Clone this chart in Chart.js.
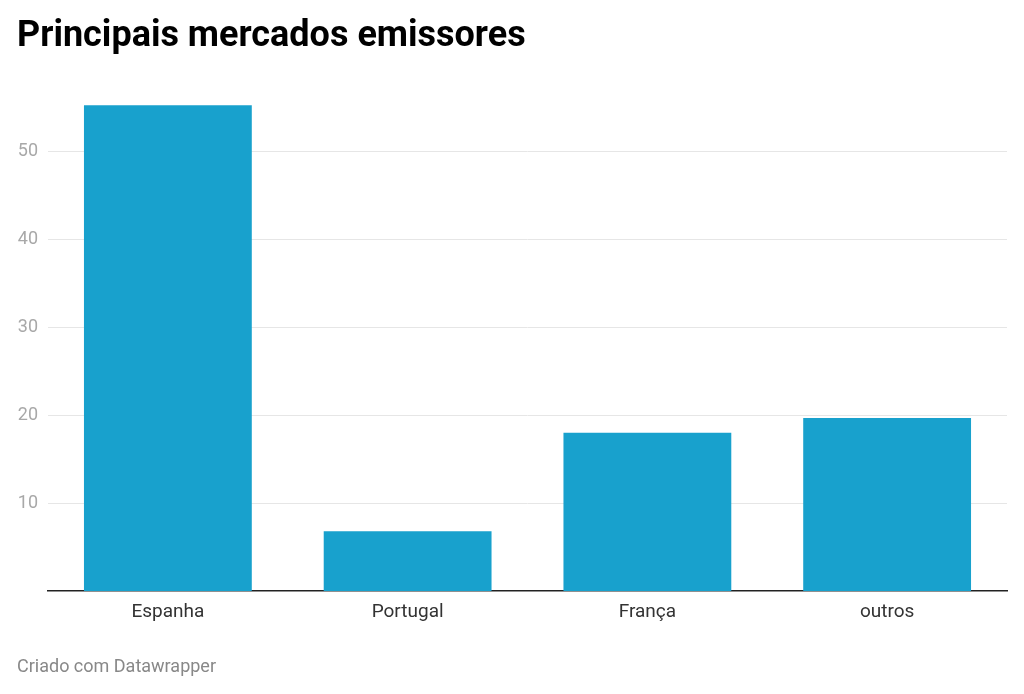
<!DOCTYPE html>
<html>
<head>
<meta charset="utf-8">
<script src="https://cdn.jsdelivr.net/npm/chart.js@4/dist/chart.umd.min.js"></script>
<style>
  html, body { margin: 0; padding: 0; background: #fff; }
  #wrap { position: relative; width: 1024px; height: 694px; overflow: hidden; }
  #title { position: absolute; left: 17px; top: 13px; font-family: Roboto, sans-serif; font-weight: 700; font-size: 36px; color: #000; white-space: nowrap; }
  #footer { position: absolute; left: 17px; top: 655px; font-family: Roboto, sans-serif; font-size: 18px; color: #888; white-space: nowrap; }
  canvas { position: absolute; left: 0; top: 0; }
</style>
</head>
<body>
<div id="wrap">
  <canvas id="c" width="1024" height="694"></canvas>
  <div id="title">Principais mercados emissores</div>
  <div id="footer">Criado com Datawrapper</div>
</div>
<script>
const categories = ["Espanha", "Portugal", "França", "outros"];
const values = [55.3, 6.8, 18.0, 19.7];
const yTicks = [10, 20, 30, 40, 50];

new Chart(document.getElementById('c'), {
  type: 'bar',
  data: {
    labels: categories,
    datasets: [{
      data: values,
      backgroundColor: '#18a1cd',
      borderWidth: 0,
      categoryPercentage: 1.0,
      barPercentage: 0.7
    }]
  },
  options: {
    responsive: false,
    animation: false,
    layout: { padding: { top: 99, right: 17, bottom: 0, left: 0 } },
    plugins: { legend: { display: false }, tooltip: { enabled: false }, title: { display: false } },
    scales: {
      x: {
        grid: { display: false, drawTicks: false },
        border: { display: true, color: '#222', width: 1.5 },
        ticks: { color: '#333', font: { family: 'Roboto', size: 19 }, padding: 10 },
        afterFit: (s) => { s.height = 103; }
      },
      y: {
        min: 0,
        max: 56,
        grid: { color: '#e6e6e6', lineWidth: 1, drawTicks: false },
        border: { display: false },
        ticks: { color: '#a8a8a8', font: { family: 'Roboto', size: 18 }, padding: 10 },
        afterBuildTicks: (s) => { s.ticks = yTicks.map(v => ({ value: v })); },
        afterFit: (s) => { s.width = 48; }
      }
    }
  }
});
</script>
</body>
</html>
